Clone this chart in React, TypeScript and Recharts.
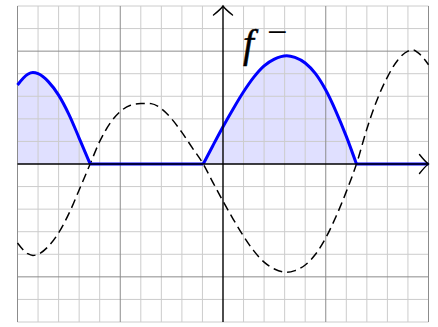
import React from "react";
import {
  ComposedChart,
  Line,
  Area,
  XAxis,
  YAxis,
  ReferenceLine,
  ReferenceDot,
} from "recharts";

// sample positions along x (including the zero crossings of f)
const xs = [
  -2.0, -1.9, -1.85, -1.8, -1.7, -1.6, -1.5, -1.4, -1.293, -1.2, -1.1, -1.0, -0.9,
  -0.8, -0.74, -0.7, -0.6, -0.5, -0.4, -0.3, -0.192, -0.1, 0, 0.1, 0.2, 0.3, 0.4,
  0.5, 0.62, 0.7, 0.8, 0.9, 1.0, 1.1, 1.2, 1.299, 1.4, 1.5, 1.6, 1.7, 1.8, 1.85,
  1.9, 2.0,
];
// f (dashed curve)
const fValues = [
  -0.7, -0.795, -0.81, -0.8, -0.73, -0.61, -0.44, -0.23, 0, 0.2, 0.36, 0.465, 0.52,
  0.535, 0.537, 0.535, 0.49, 0.4, 0.28, 0.145, 0, -0.16, -0.33, -0.49, -0.64,
  -0.77, -0.87, -0.93, -0.96, -0.945, -0.895, -0.8, -0.655, -0.465, -0.245, 0, 0.31,
  0.57, 0.77, 0.92, 1.0, 1.01, 0.985, 0.88,
];

const minorX = [
  -1.8, -1.6, -1.4, -1.2, -0.8, -0.6, -0.4, -0.2, 0.2, 0.4, 0.6, 0.8,
  1.2, 1.4, 1.6, 1.8,
];
const minorY = [-1.4, -1.2, -0.8, -0.6, -0.4, -0.2, 0.2, 0.4, 0.6, 0.8, 1.2, 1.4];
const majorX = [-2, -1, 1, 2];
const majorY = [-1, 1];

// f^- = max(-f, 0): split into humps (where f <= 0) and flat parts (where f >= 0)
const data = xs.map((x, i) => {
  const f = fValues[i];
  return {
    x,
    f,
    hump: f <= 0 ? -f : null,
    flat: f >= 0 ? 0 : null,
  };
});

const ArrowRight = (props: any) => {
  const { cx, cy } = props;
  if (cx == null || cy == null) return null;
  return (
    <path
      d={`M ${cx - 9} ${cy - 9.5} Q ${cx - 3} ${cy - 2} ${cx} ${cy} Q ${cx - 3} ${cy + 2} ${cx - 9} ${cy + 9.5}`}
      fill="none"
      stroke="#000"
      strokeWidth={1.4}
      strokeLinecap="round"
    />
  );
};

const ArrowUp = (props: any) => {
  const { cx, cy } = props;
  if (cx == null || cy == null) return null;
  return (
    <path
      d={`M ${cx - 9.5} ${cy + 9} Q ${cx - 2} ${cy + 3} ${cx} ${cy} Q ${cx + 2} ${cy + 3} ${cx + 9.5} ${cy + 9}`}
      fill="none"
      stroke="#000"
      strokeWidth={1.4}
      strokeLinecap="round"
    />
  );
};

export default function App() {
  return (
    <div style={{ position: "absolute", left: 0, top: 0, width: 438, height: 327 }}>
      <ComposedChart
        width={438}
        height={327}
        data={data}
        margin={{ top: 6, right: 9.5, bottom: 5, left: 17.5 }}
      >
        <XAxis dataKey="x" type="number" domain={[-2, 2]} hide />
        <YAxis type="number" domain={[-1.4, 1.4]} hide />
        {minorX.map((v) => (
          <ReferenceLine key={"mx" + v} x={v} stroke="#cccccc" strokeWidth={1} />
        ))}
        {minorY.map((v) => (
          <ReferenceLine key={"my" + v} y={v} stroke="#cccccc" strokeWidth={1} />
        ))}
        {majorX.map((v) => (
          <ReferenceLine key={"Mx" + v} x={v} stroke="#8c8c8c" strokeWidth={1} />
        ))}
        {majorY.map((v) => (
          <ReferenceLine key={"My" + v} y={v} stroke="#8c8c8c" strokeWidth={1} />
        ))}
        <Area
          type="monotone"
          dataKey="hump"
          stroke="none"
          fill="#0000ff"
          fillOpacity={0.12}
          baseValue={0}
          isAnimationActive={false}
          dot={false}
          activeDot={false}
        />
        <Line
          type="monotone"
          dataKey="f"
          stroke="#000"
          strokeWidth={1.5}
          strokeDasharray="9 5"
          dot={false}
          activeDot={false}
          isAnimationActive={false}
        />
        <Line
          type="monotone"
          dataKey="hump"
          stroke="#0000ff"
          strokeWidth={3}
          strokeLinejoin="round"
          dot={false}
          activeDot={false}
          isAnimationActive={false}
        />
        <Line
          type="linear"
          dataKey="flat"
          stroke="#0000ff"
          strokeWidth={3}
          dot={false}
          activeDot={false}
          isAnimationActive={false}
        />
        <ReferenceLine y={0} stroke="#000" strokeWidth={1.4} />
        <ReferenceLine x={0} stroke="#000" strokeWidth={1.4} />
        <ReferenceDot x={2} y={0} r={0} shape={ArrowRight} />
        <ReferenceDot x={0} y={1.4} r={0} shape={ArrowUp} />
      </ComposedChart>
      <svg
        width={438}
        height={327}
        style={{ position: "absolute", left: 0, top: 0, pointerEvents: "none" }}
      >
        <text
          x={243}
          y={57}
          fontFamily="'Liberation Serif', serif"
          fontStyle="italic"
          fontSize={39}
          fill="#000"
          stroke="#000"
          strokeWidth={0.5}
        >
          f
        </text>
        <text
          x={267}
          y={44}
          fontFamily="'Liberation Serif', serif"
          fontSize={36}
          fill="#000"
        >
          −
        </text>
      </svg>
    </div>
  );
}
